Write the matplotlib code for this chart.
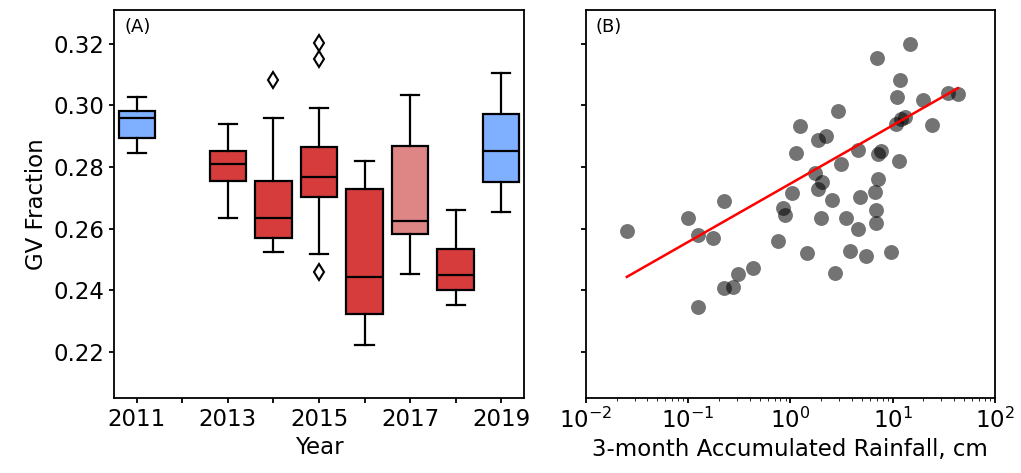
import numpy as np
import matplotlib
matplotlib.use("Agg")
import matplotlib.pyplot as plt

# panel A: box statistics per year (2012 has no data)
years = ["2011", "2012", "2013", "2014", "2015", "2016", "2017", "2018", "2019"]
box_years = ["2011", "2013", "2014", "2015", "2016", "2017", "2018", "2019"]
whislo = [0.2844, 0.2633, 0.2523, 0.2517, 0.2222, 0.2452, 0.2353, 0.2653]
q1     = [0.2894, 0.2756, 0.2571, 0.2702, 0.2323, 0.2581, 0.2401, 0.2751]
med    = [0.2960, 0.2809, 0.2633, 0.2767, 0.2442, 0.2624, 0.2448, 0.2852]
q3     = [0.2981, 0.2853, 0.2756, 0.2864, 0.2728, 0.2867, 0.2533, 0.2971]
whishi = [0.3027, 0.2939, 0.2960, 0.2993, 0.2818, 0.3035, 0.2659, 0.3106]
fliers = [[], [], [0.3081], [0.3202, 0.3151, 0.2460], [], [], [], []]
box_colors = ["#7fb0ff", "#d63c3c", "#d63c3c", "#d63c3c", "#d63c3c",
              "#de8585", "#d63c3c", "#7fb0ff"]

# panel B: rainfall (cm) vs GV fraction
rain = [0.0252, 0.1007, 0.126, 0.177, 0.226, 0.126, 0.226, 0.277, 0.306, 0.428,
        0.760, 0.839, 0.884, 1.04, 1.13,
        14.7, 7.03, 11.7, 11.0, 19.8, 34.7, 43.4, 2.95, 1.24,
        10.9, 12.0, 13.1, 24.4, 1.87, 2.22,
        4.60, 7.14, 7.64, 11.5, 3.16, 1.73, 2.06, 1.87,
        7.19, 6.67, 4.84, 2.58,
        6.93, 6.93, 3.53, 2.01, 4.58,
        1.44, 3.86, 5.46, 9.55, 2.72]
gvf = [0.2592, 0.2636, 0.2579, 0.2571, 0.2691, 0.2346, 0.2406, 0.2409, 0.2452, 0.2471,
       0.2559, 0.2667, 0.2645, 0.2715, 0.2844,
       0.3200, 0.3155, 0.3081, 0.3028, 0.3019, 0.3041, 0.3036, 0.2982, 0.2932,
       0.2941, 0.2955, 0.2962, 0.2935, 0.2889, 0.2900,
       0.2854, 0.2843, 0.2851, 0.2819, 0.2809, 0.2779, 0.2751, 0.2730,
       0.2761, 0.2719, 0.2702, 0.2694,
       0.2660, 0.2617, 0.2635, 0.2633, 0.2600,
       0.2522, 0.2528, 0.2512, 0.2523, 0.2456]

# regression line (GV = icpt + slope * log10(rain))
fit_slope = 0.01894
fit_icpt = 0.2746

plt.rcParams['font.size'] = 16.5

fig = plt.figure(figsize=(10.21, 4.73), dpi=100)
axA = fig.add_axes([0.1117, 0.1586, 0.4015, 0.8203])
axB = fig.add_axes([0.5737, 0.1586, 0.4008, 0.8203], sharey=axA)

stats = []
for i in range(len(box_years)):
    stats.append(dict(whislo=whislo[i], q1=q1[i], med=med[i], q3=q3[i],
                      whishi=whishi[i], fliers=fliers[i]))
pos = [years.index(y) for y in box_years]
lw = 1.6
bp = axA.bxp(stats, positions=pos, widths=0.8, patch_artist=True,
             boxprops=dict(linewidth=lw, edgecolor='black'),
             medianprops=dict(color='black', linewidth=lw),
             whiskerprops=dict(color='black', linewidth=lw),
             capprops=dict(color='black', linewidth=lw),
             flierprops=dict(marker='d', markersize=8, markerfacecolor='white',
                             markeredgecolor='black', markeredgewidth=1.5))
for patch, c in zip(bp['boxes'], box_colors):
    patch.set_facecolor(c)
axA.set_xlim(-0.5, len(years) - 0.5)
axA.set_xticks(range(len(years)))
axA.set_xticklabels([y if i % 2 == 0 else "" for i, y in enumerate(years)])
axA.set_ylim(0.205, 0.331)
axA.set_yticks([0.22, 0.24, 0.26, 0.28, 0.30, 0.32])
axA.set_xlabel("Year")
axA.set_ylabel("GV Fraction")
axA.text(0.025, 0.98, "(A)", transform=axA.transAxes, fontsize=13, va='top')

# panel B
axB.scatter(rain, gvf, s=115, color='black', alpha=0.55, linewidths=0)
xl = np.array([min(rain), max(rain)])
axB.plot(xl, fit_icpt + fit_slope * np.log10(xl), color='red', linewidth=1.8)
axB.set_xscale('log')
axB.set_xlim(1e-2, 1e2)
axB.tick_params(axis='y', labelleft=False)
axB.set_xlabel("3-month Accumulated Rainfall, cm")
axB.text(0.025, 0.98, "(B)", transform=axB.transAxes, fontsize=13, va='top')

for ax in (axA, axB):
    for s in ax.spines.values():
        s.set_linewidth(1.3)
    ax.tick_params(width=1.3)

fig.savefig("out.png", dpi=100)
